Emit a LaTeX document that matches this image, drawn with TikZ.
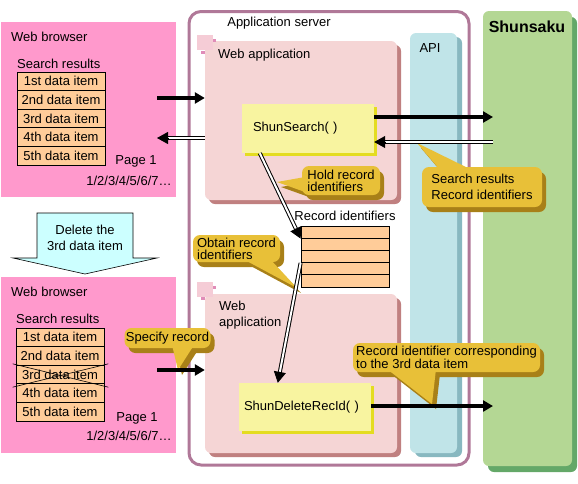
\documentclass[tikz,border=0pt]{standalone}
\usepackage{fontspec}
\setmainfont{Liberation Sans}
\usetikzlibrary{arrows.meta, calc, shadows}

\definecolor{browserpink}{HTML}{FF99CC}
\definecolor{itempeach}{HTML}{FFCC99}
\definecolor{servermauve}{HTML}{B07898}
\definecolor{webappfill}{HTML}{F5D5D5}
\definecolor{webappdark}{HTML}{C08080}
\definecolor{webappsq}{HTML}{F5CCD6}
\definecolor{webappdot}{HTML}{E08CB8}
\definecolor{funcyellow}{HTML}{F8F4A0}
\definecolor{funcdark}{HTML}{E4DC20}
\definecolor{apifill}{HTML}{C0E4E8}
\definecolor{apidark}{HTML}{88B8C0}
\definecolor{shunfill}{HTML}{B4D794}
\definecolor{shundark}{HTML}{64A868}
\definecolor{calloutgold}{HTML}{E8C038}
\definecolor{calloutdark}{HTML}{A88018}
\definecolor{deletecyan}{HTML}{CCFFFF}

\tikzstyle{txt} = [inner sep=0pt, font=\fontsize{13}{12.5}\selectfont]
\tikzstyle{browser} = [rectangle, fill=browserpink, inner sep=0pt, minimum width=175pt]
\tikzstyle{item} = [rectangle, draw=black, line width=0.8pt, fill=itempeach, minimum width=88pt, minimum height=18.6pt, inner sep=0pt, font=\fontsize{13}{12.5}\selectfont]
\tikzstyle{rid} = [rectangle, draw=black, line width=0.8pt, fill=itempeach, minimum width=88pt, minimum height=12.2pt, inner sep=0pt]
\tikzstyle{webapp} = [rectangle, rounded corners=6pt, fill=webappfill, minimum width=192pt, minimum height=159pt, inner sep=0pt, general shadow={fill=webappdark, shadow xshift=4pt, shadow yshift=-4pt}]
\tikzstyle{func} = [rectangle, fill=funcyellow, minimum height=48pt, align=left, inner ysep=0pt, font=\fontsize{13}{12.5}\selectfont, general shadow={fill=funcdark, shadow xshift=3pt, shadow yshift=-3pt}]
\tikzstyle{column} = [rectangle, rounded corners=6pt, inner sep=0pt]
\tikzstyle{callout} = [rectangle, rounded corners=7pt, fill=calloutgold, inner sep=0pt, align=left, font=\fontsize{13}{12}\selectfont, general shadow={fill=calloutdark, shadow xshift=4pt, shadow yshift=-5pt}]
\tikzstyle{pointer} = [fill=calloutgold]
\tikzstyle{pointershadow} = [fill=calloutdark, shift={(4,5)}]
\tikzstyle{arrow} = [line width=3.2pt, -{Triangle[length=10pt, width=11pt]}]
\tikzstyle{dblline} = [line width=1pt, double=white, double distance=2pt]
\tikzstyle{dbltip} = [line width=0.9pt, -{Triangle[length=11pt, width=12pt]}]

\newcommand{\dblarrow}[2]{%
  \draw[dblline] (#1) -- ($(#2)!8pt!(#1)$);
  \draw[dbltip] ($(#2)!11pt!(#1)$) -- (#2);
}

\begin{document}
\begin{tikzpicture}[x=1pt, y=-1pt]
\useasboundingbox (0,0) rectangle (578,483);

	\node (b1) [browser, minimum height=175pt] at (88.5,109.5) {};
	\node (b2) [browser, minimum height=176pt] at (88.5,365) {};
	\node (b1title) [txt, anchor=west] at (11,37) {Web browser};
	\node (b2title) [txt, anchor=west] at (11,292) {Web browser};
	\node (b1res) [txt, anchor=west] at (17,64) {Search results};
	\node (b2res) [txt, anchor=west] at (16,319) {Search results};
	\foreach \i/\ord in {1/1st,2/2nd,3/3rd,4/4th,5/5th} {
		\node (ra\i) [item] at (61,{72+18.6*(\i-0.5)}) {\ord\ data item};
		\node (rb\i) [item] at (60,{328+18.6*(\i-0.5)}) {\ord\ data item};
	}
	\draw[line width=0.6pt] ($(rb3.north west)+(-3,-1)$) -- ($(rb3.south east)+(4,3)$);
	\draw[line width=0.6pt] ($(rb3.south west)+(-3,3)$) -- ($(rb3.north east)+(4,-1)$);
	\node (b1page) [txt] at (136,161) {Page 1};
	\node (b1nav) [txt] at (129,181) {1/2/3/4/5/6/7…};
	\node (b2page) [txt] at (137,418) {Page 1};
	\node (b2nav) [txt] at (129,436) {1/2/3/4/5/6/7…};

	\draw[fill=deletecyan, line width=0.6pt] (37,213) -- (133,213) -- (133,258) -- (157,258) -- (85,274) -- (13,258) -- (37,258) -- cycle;
	\node (del) [txt, align=center, font=\fontsize{13}{16}\selectfont] at (85,238) {Delete the\\3rd data item};

	\node (appsrv) [draw=servermauve, line width=3pt, rounded corners=12pt, minimum width=280pt, minimum height=453.5pt, inner sep=0pt] at (329,238.25) {};
	\node (srvtitle) [txt] at (279,23) {Application server};

	\node (wa1) [webapp] at (301,120.5) {};
	\fill[webappsq] (197,35) rectangle (213,50);
	\fill[webappdot] (213,39) rectangle (216,42);
	\fill[webappdot] (201,51) rectangle (205,54);
	\node (wa1title) [txt, anchor=west] at (218,55) {Web application};
	\node (wa2) [webapp] at (301,373.5) {};
	\fill[webappsq] (197,282) rectangle (213,297);
	\fill[webappdot] (213,286) rectangle (216,289);
	\fill[webappdot] (201,297) rectangle (205,300);
	\node (wa2title) [txt, anchor=west, align=left, font=\fontsize{13}{16}\selectfont] at (219,315) {Web\\application};

	\node (api) [column, fill=apifill, minimum width=47pt, minimum height=420pt, general shadow={fill=apidark, shadow xshift=5pt, shadow yshift=-4pt}] at (433.5,243) {};
	\node (apititle) [txt] at (430,48) {API};
	\node (shun) [column, fill=shunfill, minimum width=89pt, minimum height=455pt, general shadow={fill=shundark, shadow xshift=5pt, shadow yshift=-6pt}] at (527.5,238.5) {};
	\node (shuntitle) [txt, font=\fontsize{16}{16}\selectfont\bfseries] at (527,27) {Shunsaku};

	\node (fs) [func, text width=110pt, inner xsep=11pt, minimum height=49pt] at (308,128.5) {ShunSearch( )};
	\node (fd) [func, text width=122pt, inner xsep=5pt] at (305,407) {ShunDeleteRecId( )};

	\node (ridtitle) [txt] at (345,216) {Record identifiers};
	\foreach \i in {1,...,5}
		\node (id\i) [rid] at (345,{226+12.2*(\i-0.5)}) {};

	\fill[pointershadow] (417,143) -- (440,170) -- (472,170) -- cycle;
	\fill[pointershadow] (277,182) -- (305,177) -- (305,192) -- cycle;
	\fill[pointershadow] (297,288) -- (243,259) -- (270,259) -- cycle;
	\fill[pointershadow] (178,370) -- (172,345) -- (194,345) -- cycle;
	\fill[pointershadow] (432,404) -- (387,369) -- (436,369) -- cycle;
	\node (srcall) [callout, minimum width=120pt, minimum height=40pt, font=\fontsize{13}{16}\selectfont] at (482,187) {Search results\\Record identifiers};
	\node (holdcall) [callout, minimum width=78pt, minimum height=29pt] at (341,180.5) {Hold record\\identifiers};
	\node (obtcall) [callout, minimum width=87pt, minimum height=27pt] at (236.5,248.5) {Obtain record\\identifiers};
	\node (spccall) [callout, minimum width=86pt, minimum height=20pt] at (167.5,338) {Specify record};
	\node (reccall) [callout, minimum width=187pt, minimum height=29pt] at (446.5,357.5) {Record identifier corresponding\\to the 3rd data item};
	\fill[pointer] (417,143) -- (440,170) -- (472,170) -- cycle;
	\fill[pointer] (277,182) -- (305,177) -- (305,192) -- cycle;
	\fill[pointer] (297,288) -- (243,259) -- (270,259) -- cycle;
	\fill[pointer] (178,370) -- (172,345) -- (194,345) -- cycle;
	\fill[pointer] (432,404) -- (387,369) -- (436,369) -- cycle;

	\coordinate (b1out) at (157,98);
	\draw[arrow] (b1out) -- (b1out -| wa1.west);
	\coordinate (b1in) at (157,138);
	\coordinate (wa1out) at (b1in -| wa1.west);
	\dblarrow{wa1out}{b1in}
	\coordinate (shunin1) at (493,117);
	\draw[arrow] (shunin1 -| fs.east) -- (shunin1);
	\coordinate (shunout1) at (493,142);
	\coordinate (fsin) at (shunout1 -| fs.east);
	\dblarrow{shunout1}{fsin}
	\coordinate (fsout) at ($(fs.south west)+(18,0)$);
	\dblarrow{fsout}{id1.south west}
	\coordinate (fdin) at ($(fd.north west)+(39,0)$);
	\dblarrow{id3.south west}{fdin}
	\coordinate (b2out) at (157,370);
	\draw[arrow] (b2out) -- (b2out -| wa2.west);
	\coordinate (shunin2) at (493,406);
	\draw[arrow] (shunin2 -| fd.east) -- (shunin2);
\end{tikzpicture}
\end{document}
